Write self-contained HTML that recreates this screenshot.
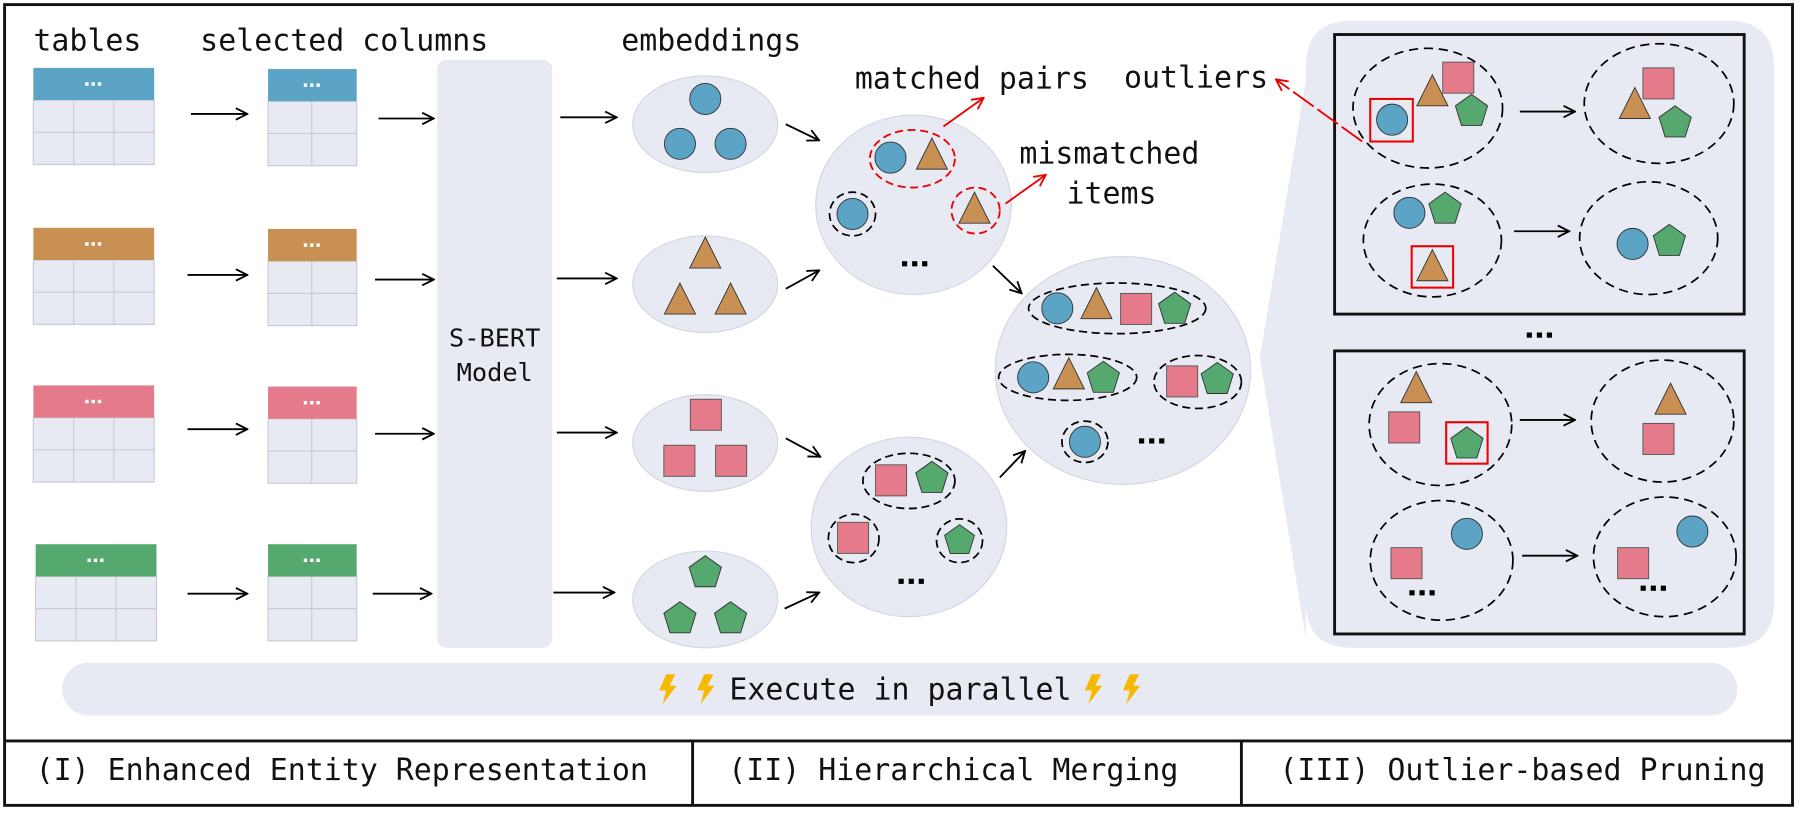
<!DOCTYPE html>
<html><head><meta charset="utf-8"><style>
html,body{margin:0;padding:0;background:#fff;}
svg{display:block;}
text{font-family:"DejaVu Sans Mono","Liberation Mono",monospace;fill:#111;}
</style></head><body>
<svg width="1804" height="814" viewBox="0 0 1568 707.5" preserveAspectRatio="none" xmlns="http://www.w3.org/2000/svg">
<defs>
<marker id="ab" viewBox="0 0 12 12" refX="11" refY="6" markerWidth="12" markerHeight="12" markerUnits="userSpaceOnUse" orient="auto"><path d="M1,1 L11,6 L1,11" fill="none" stroke="#000" stroke-width="1.6"/></marker>
<marker id="ar" viewBox="0 0 12 12" refX="11" refY="6" markerWidth="12" markerHeight="12" markerUnits="userSpaceOnUse" orient="auto"><path d="M1,1 L11,6 L1,11" fill="none" stroke="#e00" stroke-width="1.6"/></marker>
<polygon id="pt" points="0,0 14,10 8.7,27 -8.7,27 -14,10" fill="#55a96e" stroke="#333" stroke-width="0.8"/>
<polygon id="tr" points="0,0 13.5,27 -13.5,27" fill="#c89153" stroke="#333" stroke-width="0.8"/>
<rect id="sq" x="0" y="0" width="27" height="27" fill="#e57a8a" stroke="#555" stroke-width="0.8"/>
<circle id="ci" cx="0" cy="0" r="13.5" fill="#5ba4c6" stroke="#333" stroke-width="0.8"/>
<g id="wd"><rect x="-7" y="-1.5" width="3" height="3" fill="#fff"/><rect x="-1.5" y="-1.5" width="3" height="3" fill="#fff"/><rect x="4" y="-1.5" width="3" height="3" fill="#fff"/></g>
<g id="bd"><rect x="-11" y="-2" width="4.5" height="4.5" fill="#000"/><rect x="-2.2" y="-2" width="4.5" height="4.5" fill="#000"/><rect x="6.5" y="-2" width="4.5" height="4.5" fill="#000"/></g>
<g id="tb"><rect x="0" y="28" width="105" height="56" fill="#e8eaf3" stroke="#c9cad3"/><line x1="35" y1="28" x2="35" y2="84" stroke="#c9cad3"/><line x1="70" y1="28" x2="70" y2="84" stroke="#c9cad3"/><line x1="0" y1="56" x2="105" y2="56" stroke="#c9cad3"/></g>
<g id="sb"><rect x="0" y="28" width="77" height="56" fill="#e8eaf3" stroke="#c9cad3"/><line x1="38" y1="28" x2="38" y2="84" stroke="#c9cad3"/><line x1="0" y1="56" x2="77" y2="56" stroke="#c9cad3"/></g>
<polygon id="bolt" points="6,0 14,0 9,10 15,10 3,26 6,14 0,14" fill="#f7b800"/>
</defs>

<rect x="4" y="4" width="1554" height="696" fill="none" stroke="#111" stroke-width="2.5"/>
<line x1="4" y1="644" x2="1558" y2="644" stroke="#111" stroke-width="2.5"/>
<line x1="602" y1="644" x2="602" y2="700" stroke="#111" stroke-width="2.5"/>
<line x1="1079" y1="644" x2="1079" y2="700" stroke="#111" stroke-width="2.5"/>
<g font-size="26">
<text x="31" y="678">(I) Enhanced Entity Representation</text>
<text x="633" y="678">(II) Hierarchical Merging</text>
<text x="1112" y="678">(III) Outlier-based Pruning</text>
<text x="29" y="44">tables</text>
<text x="174" y="44">selected columns</text>
<text x="540" y="44">embeddings</text>
<text x="743" y="77">matched pairs</text>
<text x="977" y="76">outliers</text>
<text x="886" y="142">mismatched</text>
<text x="927" y="177">items</text>
</g>

<!-- tables -->
<g transform="translate(29,59)"><use href="#tb"/><rect width="105" height="28" fill="#5ba4c6"/><use href="#wd" x="52" y="14"/></g>
<g transform="translate(29,198)"><use href="#tb"/><rect width="105" height="28" fill="#c89153"/><use href="#wd" x="52" y="14"/></g>
<g transform="translate(29,335)"><use href="#tb"/><rect width="105" height="28" fill="#e57a8a"/><use href="#wd" x="52" y="14"/></g>
<g transform="translate(31,473)"><use href="#tb"/><rect width="105" height="28" fill="#55a96e"/><use href="#wd" x="52" y="14"/></g>
<g transform="translate(233,60)"><use href="#sb"/><rect width="77" height="28" fill="#5ba4c6"/><use href="#wd" x="38" y="14"/></g>
<g transform="translate(233,199)"><use href="#sb"/><rect width="77" height="28" fill="#c89153"/><use href="#wd" x="38" y="14"/></g>
<g transform="translate(233,336)"><use href="#sb"/><rect width="77" height="28" fill="#e57a8a"/><use href="#wd" x="38" y="14"/></g>
<g transform="translate(233,473)"><use href="#sb"/><rect width="77" height="28" fill="#55a96e"/><use href="#wd" x="38" y="14"/></g>

<g stroke="#000" stroke-width="1.6" marker-end="url(#ab)">
<line x1="166" y1="99" x2="215" y2="99"/><line x1="163" y1="239" x2="215" y2="239"/><line x1="163" y1="373" x2="215" y2="373"/><line x1="163" y1="516" x2="215" y2="516"/>
<line x1="329" y1="103" x2="377" y2="103"/><line x1="326" y1="243" x2="377" y2="243"/><line x1="326" y1="377" x2="377" y2="377"/><line x1="324" y1="516" x2="375" y2="516"/>
<line x1="487" y1="102" x2="536" y2="102"/><line x1="484" y1="242" x2="536" y2="242"/><line x1="484" y1="376" x2="536" y2="376"/><line x1="481" y1="515" x2="534" y2="515"/>
<line x1="683" y1="108" x2="712" y2="122"/><line x1="683" y1="251" x2="712" y2="235"/><line x1="683" y1="381" x2="713" y2="397"/><line x1="682" y1="529" x2="712" y2="515"/>
<line x1="863" y1="231" x2="888" y2="255"/><line x1="869" y1="415" x2="891" y2="392"/>
</g>

<!-- S-BERT -->
<rect x="380" y="52" width="100" height="511" rx="8" fill="#e8eaf3"/>
<text x="430" y="301" font-size="22" text-anchor="middle">S-BERT</text>
<text x="430" y="331" font-size="22" text-anchor="middle">Model</text>

<!-- embeddings -->
<g fill="#e8eaf3" stroke="#d4d6e0">
<ellipse cx="613" cy="108" rx="63" ry="42"/><ellipse cx="613" cy="247" rx="63" ry="42"/><ellipse cx="613" cy="385" rx="63" ry="42"/><ellipse cx="613" cy="521" rx="63" ry="42"/>
<ellipse cx="794" cy="178" rx="85" ry="78"/><ellipse cx="790" cy="458" rx="85" ry="78"/><ellipse cx="976" cy="322" rx="111" ry="99"/>
</g>
<use href="#ci" x="613" y="86"/><use href="#ci" x="591" y="125"/><use href="#ci" x="635" y="125"/>
<use href="#tr" x="613" y="206"/><use href="#tr" x="591" y="246"/><use href="#tr" x="635" y="246"/>
<use href="#sq" x="600" y="347"/><use href="#sq" x="577" y="387"/><use href="#sq" x="622" y="387"/>
<use href="#pt" x="613" y="483"/><use href="#pt" x="591" y="523"/><use href="#pt" x="635" y="523"/>

<!-- cluster 1 -->
<ellipse cx="793" cy="138" rx="37" ry="25" fill="none" stroke="#e00" stroke-width="1.6" stroke-dasharray="7,4"/>
<use href="#ci" x="774" y="137"/><use href="#tr" x="810" y="120"/>
<ellipse cx="848" cy="183" rx="21" ry="20" fill="none" stroke="#e00" stroke-width="1.6" stroke-dasharray="7,4"/>
<use href="#tr" x="847" y="167"/>
<ellipse cx="741" cy="186" rx="20" ry="19" fill="none" stroke="#000" stroke-width="1.5" stroke-dasharray="7,4"/>
<use href="#ci" x="741" y="186"/>
<use href="#bd" x="795" y="229"/>

<!-- cluster 2 -->
<ellipse cx="790" cy="418" rx="40" ry="24" fill="none" stroke="#000" stroke-width="1.5" stroke-dasharray="7,4"/>
<use href="#sq" x="761" y="404"/><use href="#pt" x="810" y="401"/>
<ellipse cx="742" cy="468" rx="22" ry="21" fill="none" stroke="#000" stroke-width="1.5" stroke-dasharray="7,4"/>
<use href="#sq" x="728" y="454"/>
<ellipse cx="834" cy="470" rx="20" ry="19" fill="none" stroke="#000" stroke-width="1.5" stroke-dasharray="7,4"/>
<g transform="translate(834,456) scale(0.93)"><use href="#pt"/></g>
<use href="#bd" x="792" y="505"/>

<!-- cluster 3 -->
<g fill="none" stroke="#000" stroke-width="1.5" stroke-dasharray="7,4">
<ellipse cx="971" cy="268" rx="77" ry="22"/><ellipse cx="928" cy="328" rx="60" ry="20"/><ellipse cx="1041" cy="332" rx="38" ry="23"/><ellipse cx="943" cy="384" rx="20" ry="18"/>
</g>
<use href="#ci" x="919" y="268"/><use href="#tr" x="953" y="250"/><use href="#sq" x="974" y="255"/><use href="#pt" x="1021" y="254"/>
<use href="#ci" x="898" y="328"/><use href="#tr" x="929" y="311"/><use href="#pt" x="959" y="314"/>
<use href="#sq" x="1014" y="318"/><use href="#pt" x="1058" y="315"/>
<use href="#ci" x="943" y="384"/>
<use href="#bd" x="1001" y="383"/>

<!-- right panel -->
<path d="M1175,18 H1502 Q1542,18 1542,58 V523 Q1542,563 1502,563 H1175 Q1135,563 1135,523 L1135,555 L1095,311 L1135,70 V58 Q1135,18 1175,18 Z" fill="#e8eaf3"/>
<rect x="1160" y="30" width="356" height="243" fill="none" stroke="#111" stroke-width="2.5"/>
<rect x="1160" y="305" width="356" height="246" fill="none" stroke="#111" stroke-width="2.5"/>
<use href="#bd" x="1338" y="291"/>
<g fill="none" stroke="#000" stroke-width="1.5" stroke-dasharray="8,5">
<ellipse cx="1241" cy="94" rx="65" ry="52"/><ellipse cx="1442" cy="90" rx="65" ry="52"/>
<ellipse cx="1245" cy="209" rx="60" ry="49"/><ellipse cx="1433" cy="207" rx="60" ry="49"/>
<ellipse cx="1252" cy="369" rx="62" ry="53"/><ellipse cx="1445" cy="366" rx="62" ry="53"/>
<ellipse cx="1253" cy="487" rx="62" ry="52"/><ellipse cx="1447" cy="484" rx="62" ry="52"/>
</g>
<use href="#tr" x="1245" y="65"/><use href="#sq" x="1254" y="54"/><use href="#pt" x="1279" y="82"/>
<rect x="1191" y="86" width="37" height="37" fill="none" stroke="#e00" stroke-width="1.8"/><use href="#ci" x="1210" y="104"/>
<use href="#tr" x="1421" y="76"/><use href="#sq" x="1428" y="59"/><use href="#pt" x="1456" y="92"/>
<use href="#ci" x="1225" y="185"/><use href="#pt" x="1256" y="167"/>
<rect x="1227" y="214" width="36" height="36" fill="none" stroke="#e00" stroke-width="1.8"/><use href="#tr" x="1245" y="217"/>
<use href="#ci" x="1419" y="212"/><use href="#pt" x="1451" y="195"/>
<use href="#tr" x="1231" y="323"/><use href="#sq" x="1207" y="358"/>
<rect x="1257" y="367" width="36" height="36" fill="none" stroke="#e00" stroke-width="1.8"/><use href="#pt" x="1275" y="371"/>
<use href="#tr" x="1452" y="333"/><use href="#sq" x="1428" y="368"/>
<use href="#ci" x="1275" y="464"/><use href="#sq" x="1209" y="476"/><use href="#bd" x="1236" y="515"/>
<use href="#ci" x="1471" y="462"/><use href="#sq" x="1406" y="476"/><use href="#bd" x="1437" y="511"/>

<g stroke="#000" stroke-width="1.6" marker-end="url(#ab)">
<line x1="1321" y1="97" x2="1369" y2="97"/><line x1="1316" y1="201" x2="1364" y2="201"/><line x1="1321" y1="365" x2="1369" y2="365"/><line x1="1323" y1="483" x2="1371" y2="483"/>
</g>
<g stroke="#e00" stroke-width="1.6" marker-end="url(#ar)">
<line x1="820" y1="110" x2="855" y2="85"/><line x1="874" y1="177" x2="909" y2="152"/>
<line x1="1184" y1="123" x2="1109" y2="69" stroke-dasharray="22,4"/>
</g>

<!-- execute bar -->
<rect x="54" y="576" width="1456" height="46" rx="23" fill="#e8eaf3"/>
<use href="#bolt" x="573" y="586"/><use href="#bolt" x="606" y="586"/>
<text x="634" y="608" font-size="26">Execute in parallel</text>
<use href="#bolt" x="943" y="586"/><use href="#bolt" x="976" y="586"/>
</svg>
</body></html>
